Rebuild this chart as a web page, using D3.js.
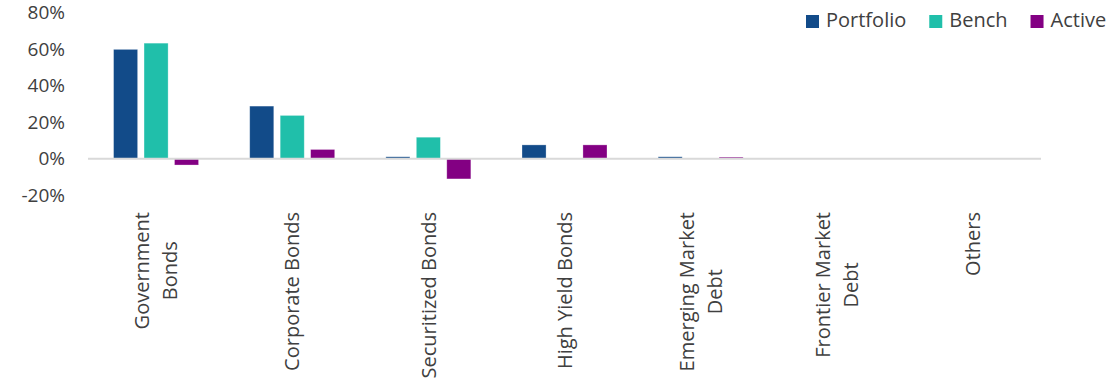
<!DOCTYPE html>
<html>
<head>
<meta charset="utf-8">
<script src="https://cdn.jsdelivr.net/npm/d3@7/dist/d3.min.js"></script>
<style>
  html, body { margin: 0; padding: 0; background: #fff; }
  svg { display: block; }
  text { font-family: "Open Sans", sans-serif; fill: #404040; }
</style>
</head>
<body>
<svg id="chart" width="1114" height="390"></svg>
<script>
// Sector allocation: portfolio vs benchmark weights and active difference (%)
const categories = [
  ["Government", "Bonds"],
  ["Corporate Bonds"],
  ["Securitized Bonds"],
  ["High Yield Bonds"],
  ["Emerging Market", "Debt"],
  ["Frontier Market", "Debt"],
  ["Others"]
];
const seriesNames = ["Portfolio", "Bench", "Active"];
const portfolio = [59.8, 28.8, 1.1, 7.6, 1.1, 0, 0];
const bench     = [63.2, 23.7, 11.8, 0, 0, 0, 0];
const active    = [-3.4, 5.1, -11.0, 7.6, 0.9, 0, 0];
const yTicks    = [-20, 0, 20, 40, 60, 80];

const colors = { Portfolio: "#124b89", Bench: "#20bfaa", Active: "#830083" };
const values = { Portfolio: portfolio, Bench: bench, Active: active };

const svg = d3.select("#chart");
const plot = { left: 88, right: 1041, top: 12.4, bottom: 195.4 };

const x0 = d3.scaleBand()
  .domain(d3.range(categories.length))
  .range([plot.left, plot.right])
  .padding(0);

const groupWidth = 85;
const x1 = d3.scaleBand()
  .domain(seriesNames)
  .range([0, groupWidth])
  .paddingInner(0.21);

const y = d3.scaleLinear()
  .domain([-20, 80])
  .range([plot.bottom, plot.top]);

// Y axis labels (no axis line, no ticks)
const yAxis = d3.axisLeft(y)
  .tickValues(yTicks)
  .tickFormat(d => d + "%")
  .tickSize(0)
  .tickPadding(0);
const yg = svg.append("g")
  .attr("transform", "translate(65,0)")
  .call(yAxis);
yg.select(".domain").remove();
yg.selectAll("text")
  .attr("font-size", 19)
  .attr("fill", "#404040")
  .style("font-family", "'Open Sans', sans-serif");

// Bars
const groups = svg.append("g").selectAll("g")
  .data(categories)
  .join("g")
  .attr("transform", (d, i) => `translate(${x0(i) + (x0.bandwidth() - groupWidth) / 2},0)`);

groups.selectAll("rect")
  .data((d, i) => seriesNames.map(s => ({ s, v: values[s][i] })))
  .join("rect")
  .filter(d => d.v !== 0)
  .attr("x", d => x1(d.s))
  .attr("width", x1.bandwidth())
  .attr("y", d => y(Math.max(0, d.v)))
  .attr("height", d => Math.abs(y(d.v) - y(0)))
  .attr("fill", d => colors[d.s])
  .attr("stroke", "#ffffff")
  .attr("stroke-opacity", 0.4)
  .attr("stroke-width", 0.75);

// Zero baseline
svg.append("line")
  .attr("x1", plot.left)
  .attr("x2", plot.right)
  .attr("y1", y(0))
  .attr("y2", y(0))
  .attr("stroke", "#d9d9d9")
  .attr("stroke-width", 2);

// Rotated category labels, multi-line centred within each block
const fontSize = 20;
const lineH = 28;
const labelTop = 212;
categories.forEach((lines, i) => {
  const cx = x0(i) + x0.bandwidth() / 2;
  const g = svg.append("g")
    .attr("transform", `translate(${cx},${labelTop}) rotate(-90)`);
  const texts = lines.map((ln, j) => g.append("text")
    .attr("font-size", fontSize)
    .attr("text-anchor", "middle")
    .attr("y", (j - (lines.length - 1) / 2) * lineH + fontSize * 0.36)
    .text(ln));
  const maxW = d3.max(texts, t => t.node().getComputedTextLength());
  texts.forEach(t => t.attr("x", -maxW / 2));
});

// Legend
const legend = svg.append("g").attr("transform", "translate(806,0)");
let lx = 0;
seriesNames.forEach(s => {
  legend.append("rect")
    .attr("x", lx)
    .attr("y", 15)
    .attr("width", 13)
    .attr("height", 13)
    .attr("fill", colors[s]);
  const t = legend.append("text")
    .attr("x", lx + 20)
    .attr("y", 27)
    .attr("font-size", 20)
    .text(s);
  lx += 20 + t.node().getComputedTextLength() + 23;
});
</script>
</body>
</html>
